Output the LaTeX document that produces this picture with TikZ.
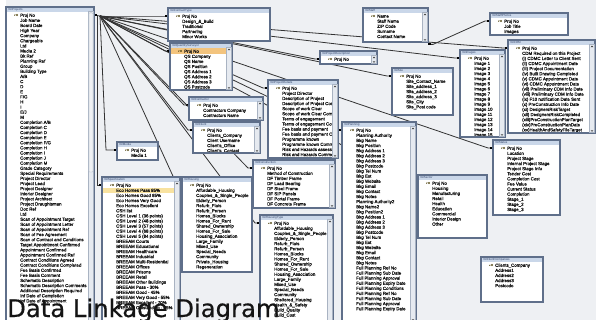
\documentclass[tikz,border=0pt]{standalone}
\usepackage{fontspec}
\setmainfont{Liberation Sans}
\newfontfamily\rowfont{Liberation Sans}[FakeBold=0.9]
\newfontfamily\capfont{DejaVu Sans}[FakeBold=0.6]
\usetikzlibrary{calc}

\definecolor{pagebg}{HTML}{EEF0F3}
\definecolor{edgec}{HTML}{5F6F8A}
\definecolor{barc}{HTML}{CAD7E9}
\definecolor{titlec}{HTML}{33456A}
\definecolor{rowc}{HTML}{141414}
\definecolor{linkc}{HTML}{333333}
\definecolor{hlorange}{HTML}{F3C47E}
\definecolor{hlyellow}{HTML}{F8E2A0}
\definecolor{sbtrackc}{HTML}{E6EAF0}
\definecolor{sbedgec}{HTML}{A9B3C2}
\definecolor{keyc}{HTML}{5E5220}

\pgfdeclarelayer{bg}
\pgfdeclarelayer{links}
\pgfsetlayers{bg,links,main}

\tikzset{
  tframe/.style={anchor=north west, fill=white, inner sep=0pt, outer sep=0pt},
  tedge/.style={draw=edgec, line width=1.1pt},
  tbar/.style={fill=barc},
  ttitle/.style={anchor=west, inner sep=0pt, font=\fontsize{3}{3}\selectfont, text=titlec},
  trows/.style={anchor=north west, inner sep=0pt, align=left, font=\rowfont\fontsize{4.4}{5.1}\selectfont, text=rowc},
  link/.style={draw=linkc, line width=0.8pt},
  linkend/.style={draw=black, line width=1.9pt},
  sbtrack/.style={fill=sbtrackc, draw=sbedgec, line width=0.3pt},
  sbarrow/.style={fill=black!75},
  sbthumb/.style={fill=white!80!sbedgec, draw=sbedgec, line width=0.3pt, rounded corners=0.6pt},
  keyicon/.style={draw=keyc, line width=0.5pt},
  caption/.style={anchor=base west, inner sep=0pt, font=\capfont\fontsize{24.3}{24.3}\selectfont, text=black!92},
}

% extra drawing (row highlight) used once by the next table
\newcommand\tblextra{}
% table: name, x, y, width, height, title, fields
\newcommand\tbl[7]{%
  \node[tframe, minimum width=#4pt, minimum height=#5pt] (#1) at (#2,#3) {};
  \begin{scope}
    \clip (#1.north west) rectangle (#1.south east);
    \fill[tbar] (#1.north west) rectangle ([yshift=-4.6pt]#1.north east);
    \node[ttitle] at ([xshift=2.5pt,yshift=-2.3pt]#1.north west) {#6};
    \tblextra
    \node[trows] (#1-f) at ([xshift=14pt,yshift=-6.4pt]#1.north west) {#7};
    \draw[keyicon] ([xshift=11pt,yshift=-8pt]#1.north west) circle (0.8pt)
      ++(-0.8pt,0pt) -- ++(-2.2pt,0pt) ++(0.7pt,0pt) -- ++(0pt,-0.8pt);
  \end{scope}
  \draw[tedge] (#1.north west) rectangle (#1.south east);
  \coordinate (#1-k) at ([yshift=-8pt]#1.north west);
  \renewcommand\tblextra{}%
}
% vertical scroll bar on the right side of a table
\newcommand\sbar[1]{%
  \path[sbtrack] ([xshift=-5.6pt,yshift=-4.6pt]#1.north east) rectangle ([xshift=-0.55pt,yshift=0.55pt]#1.south east);
  \fill[sbarrow] ([xshift=-3pt,yshift=-5.6pt]#1.north east) -- ++(-1.3pt,-1.5pt) -- ++(2.6pt,0pt) -- cycle;
  \fill[sbarrow] ([xshift=-3pt,yshift=1.2pt]#1.south east) -- ++(-1.3pt,1.5pt) -- ++(2.6pt,0pt) -- cycle;
}
% relationship line from the hub to the key row of a table
\newcommand\linkto[1]{%
  \draw[link] (hub) -- ([xshift=-5pt]#1-k) -- (#1-k);
  \draw[linkend] ([xshift=-3pt]#1-k) -- (#1-k);
}

\begin{document}
\begin{tikzpicture}[x=1pt,y=-1pt]
\useasboundingbox (0,0) rectangle (596,320);
\begin{pgfonlayer}{bg}
  \fill[pagebg] (0,0) rectangle (596,320);
  \fill[white] (0,0) rectangle (6,320);
\end{pgfonlayer}

% ---------- tables ----------
\tbl{proj}{6}{7}{88}{330}{tblProjects}{Proj No\\Job Name\\Board Date\\High Year\\Company\\Chargeable\\Ltd\\Media 2\\Bk Ref\\Planning Ref\\Group\\Building Type\\A/B\\C\\D\\E\\F/G\\H\\I\\E/J\\M\\Completion A/B\\Completion C\\Completion D\\Completion E\\Completion F/G\\Completion H\\Completion I\\Completion J\\Completion M\\Grade Category\\Special Requirements\\Project Director\\Project Lead\\Project Designer\\Interior Designer\\Project Architect\\Project Draughtsman\\Doc Ref\\Ltd\\Scan of Appointment Target\\Scan of Appointment Letter\\Scan of Appointment Ref\\Scan of Fee Agreement\\Scan of Contract and Conditions\\Target Appointment Confirmed\\Appointment Confirmed\\Appointment Confirmed Ref\\Contract Conditions Agreed\\Contract Conditions Completed\\Fee Basis Confirmed\\Fee Basis Comment\\Schematic Description\\Schematic Description Comments\\Additional Description Required\\Inf Date of Completion\\Inf Date of Appointment}
\sbar{proj}
\path[sbthumb] (88.9,13) rectangle (93,172);

\tbl{media}{117}{142}{41}{18}{tblMedia}{Proj No\\Media 1}

\renewcommand\tblextra{\fill[hlyellow] ([yshift=-10.55pt]spec.north west) rectangle ([yshift=-15.65pt]spec.north east);}
\tbl{spec}{102}{177}{78}{150}{tblSpecification}{Proj No\\Eco Homes Pass 85\%\\Eco Homes Good 85\%\\Eco Homes Very Good\\Eco Homes Excellent\\CSH list\\CSH Level 1 (36 points)\\CSH Level 2 (48 points)\\CSH Level 3 (57 points)\\CSH Level 4 (68 points)\\CSH Level 5 (84 points)\\BREEAM Courts\\BREEAM Educational\\BREEAM Healthcare\\BREEAM Industrial\\BREEAM Multi-Residential\\BREEAM Offices\\BREEAM Prisons\\BREEAM Retail\\BREEAM Other Buildings\\BREEAM Pass - 30\%\\BREEAM Good - 45\%\\BREEAM Very Good - 55\%\\BREEAM Excellent - 70\%\\BREEAM Outstanding - 85\%}
\sbar{spec}

\tbl{ctype}{168}{8}{102}{33}{tblContractType}{Proj No\\Design\_\&\_Build\\Traditional\\Partnering\\Minor Works}

\renewcommand\tblextra{\fill[hlorange] ([yshift=-5.45pt]qs.north west) rectangle ([yshift=-10.55pt]qs.north east);}
\tbl{qs}{170}{43}{62}{47}{tblQuantitySurveyor}{Proj No\\QS Company\\QS Name\\QS Position\\QS Address 1\\QS Address 2\\QS Address 3\\QS Postcode}
\sbar{qs}

\tbl{contr}{189}{97}{74}{23}{tblContractor}{Proj No\\Contractors Company\\Contractors Name}
\sbar{contr}

\tbl{client}{193}{122}{67}{31}{tblClient}{Proj No\\Clients\_Company\\Client Username\\Client's\_Office\\Client's\_Contact}
\sbar{client}

\tbl{pdesc}{268}{80}{70}{78}{tblProjectDetails}{Proj No\\Project Director\\Description of Project\\Description of Project Cont\\Scope of work Clear\\Scope of work Clear Comment\\Terms of engagement\\Terms of engagement Comment\\Fee basis and payment\\Fee basis and payment Comment\\Programme known\\Programme known Comment\\Risk and Hazards assessed\\Risk and Hazards Comment}
\sbar{pdesc}

\tbl{staff}{363}{8}{65}{34}{tblStaff}{Name\\Staff Name\\ZIP Code\\Surname\\Contact Name}
\sbar{staff}

\tbl{pdescr}{320}{51}{57}{13}{tblProjectDescription}{Proj No}
\sbar{pdescr}

\tbl{site}{392}{68}{61}{47}{tblSite}{Proj No\\Site\_Contact\_Name\\Site\_address\_1\\Site\_address\_2\\Site\_address\_3\\Site\_City\\Site\_Post code}

\tbl{plan}{342}{122}{74}{200}{tblPlanning}{Proj No\\Planning Authority\\Bkg Name\\Bkg Position\\Bkg Address 1\\Bkg Address 2\\Bkg Address 3\\Bkg Postcode\\Bkg Tel Num\\Bkg Ext\\Bkg Website\\Bkg Email\\Bkg Contact\\Bkg Notes\\Planning Authority2\\Bkg Name2\\Bkg Position2\\Bkg Address 1\\Bkg Address 2\\Bkg Address 3\\Bkg Postcode\\Bkg Tel Num\\Bkg Ext\\Bkg Website\\Bkg Email\\Bkg Contact\\Bkg Notes\\Full Planning Ref No\\Full Planning Sub Date\\Full Planning Approval\\Full Planning Expiry Date\\Full Planning Conditions\\Full Planning Ref No\\Full Planning Sub Date\\Full Planning Approval\\Full Planning Expiry Date}
\sbar{plan}

\tbl{method}{253}{160}{82}{48}{tblConstruction}{Proj No\\Method of Construction\\DF Timber Frame\\DF Load Bearing\\DF Steel Frame\\DF SIP Panels\\DF Portal Frame\\DF Concrete Frame\\DF Non Load Bearing}
\sbar{method}

\tbl{house}{182}{177}{70}{95}{tblHousing}{Proj No\\Affordable\_Housing\\Couples\_\&\_Single\_People\\Elderly\_Person\\Refurb\_Flats\\Refurb\_Person\\Homes\_Blocks\\Homes\_For\_Rent\\Shared\_Ownership\\Homes\_For\_Sale\\Housing\_Association\\Large\_Family\\Mixed\_Use\\Special\_Needs\\Community\\Private\_Housing\\Regeneration}

\tbl{htype}{260}{215}{73}{112}{tblHousingType}{Proj No\\Affordable\_Housing\\Couples\_\&\_Single\_People\\Elderly\_Person\\Refurb\_Flats\\Refurb\_Person\\Homes\_Blocks\\Homes\_For\_Rent\\Shared\_Ownership\\Homes\_For\_Sale\\Housing\_Association\\Large\_Family\\Mixed\_Use\\Special\_Needs\\Community\\Sheltered\_Housing\\Health\_\&\_Safety\\Build\_Quality\\Build\_Cost}
\sbar{htype}

\tbl{sector}{418}{175}{69}{63}{tblSector}{Proj No\\Housing\\Manufacturing\\Retail\\Health\\Education\\Commercial\\Interior Design\\Other}

\tbl{photos}{490}{13}{78}{22}{tblStaffPhotos}{Proj No\\Job Title\\Images}

\tbl{images}{460}{50}{45}{87}{tblImages}{Proj No\\Image 1\\Image 2\\Image 3\\Image 4\\Image 5\\Image 6\\Image 7\\Image 8\\Image 9\\Image 10\\Image 11\\Image 12\\Image 13\\Image 14\\Image 15}
\sbar{images}

\tbl{cdm}{508}{40}{87}{93}{tblCDM}{Proj No\\CDM Required on this Project\\(i) CDMC Letter to Client Sent\\(ii) CDMC Appointment Date\\(iii) Project Documentation\\(iv) Built Drawing Completed\\(v) CDMC Appointment Date\\(vi) CDMC Appointment Date\\(vii) Preliminary CDM Info Date\\(viii) Preliminary CDM Info Date\\(ix) F10 notification Date Sent\\(x) PreConstruction Info Date\\(xi) DesignersRiskTarget\\(xii) DesignersRiskCompleted\\(xiii)PreConstructionPlanTarget\\(xiv)PreConstructionPlanDate\\(xv)HealthAndSafetyFileTarget}
\sbar{cdm}

\tbl{status}{493}{140}{67}{75}{tblStatus}{Proj No\\Location\\Project Stage\\Internal Project Stage\\Project Stage Info\\Tender Cost\\Completion Cost\\Fee Value\\Current Status\\Completion\\Stage\_1\\Stage\_2\\Stage\_3}

\tbl{clientco}{481}{257}{62}{45}{tblClientCompanies}{Clients\_Company\\Address1\\Address2\\Address3\\Postcode}

% ---------- relationship lines ----------
\coordinate (proj-r) at ([yshift=-8pt]proj.north east);
\coordinate (hub) at (100,16);
\coordinate (mbend) at (106,150);
\coordinate (sbend1) at (97,16);
\coordinate (sbend2) at (97,185);
\coordinate (staff-r) at ([yshift=-36.4pt]staff.north east);
\begin{pgfonlayer}{links}
  \draw[link] (proj-r) -- (hub);
  \draw[linkend] (proj-r) -- ++(3,0);
  \linkto{ctype}
  \linkto{qs}
  \linkto{contr}
  \linkto{client}
  \linkto{pdesc}
  \linkto{pdescr}
  \linkto{site}
  \linkto{cdm}
  \linkto{images}
  \linkto{status}
  \linkto{sector}
  \linkto{plan}
  \linkto{method}
  \linkto{house}
  \linkto{htype}
  \draw[link] (hub) -- (mbend) -- (media-k);
  \draw[linkend] ([xshift=-3pt]media-k) -- (media-k);
  \draw[link] (sbend1) -- (sbend2) -- (spec-k);
  \draw[linkend] ([xshift=-3pt]spec-k) -- (spec-k);
  \draw[link] (staff-r) -- ++(5,0) -- ([xshift=-5pt]photos-k) -- (photos-k);
  \draw[linkend] (staff-r) -- ++(3,0);
  \draw[linkend] ([xshift=-3pt]photos-k) -- (photos-k);
\end{pgfonlayer}

% ---------- caption ----------
\node[caption] (cap) at (7,317) {Data Linkage Diagram};
\end{tikzpicture}
\end{document}
